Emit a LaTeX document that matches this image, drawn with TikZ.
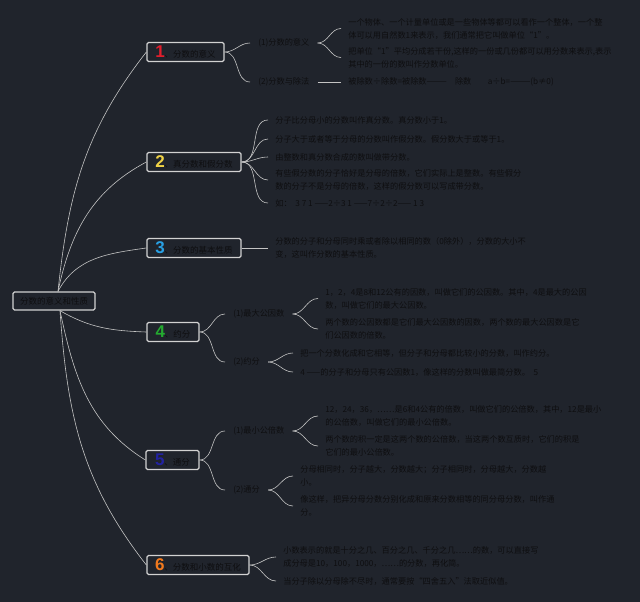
\documentclass[tikz,border=0pt]{standalone}
\usepackage{fontspec}
\setmainfont{Noto Sans CJK SC}
\newfontfamily\numfont{Liberation Sans}

\definecolor{bgcol}{RGB}{32,36,44}
\definecolor{linecol}{RGB}{196,196,196}
\definecolor{boxcol}{RGB}{210,210,210}
\definecolor{txtcol}{RGB}{14,14,16}
\definecolor{numred}{RGB}{226,30,44}
\definecolor{numyellow}{RGB}{240,210,70}
\definecolor{numblue}{RGB}{40,160,228}
\definecolor{numgreen}{RGB}{36,170,48}
\definecolor{numnavy}{RGB}{34,34,160}
\definecolor{numorange}{RGB}{242,122,30}

\newcommand\topicnum[2]{{\numfont\bfseries\fontsize{17}{17}\selectfont\color{#1}#2}}

\begin{document}
\begin{tikzpicture}[x=1pt,y=-1pt,color=linecol,line width=.6pt,
  topic/.style={draw=boxcol,line width=1.3pt,fill=bgcol,rounded corners=1.5pt,
    inner sep=0pt,minimum height=19pt,text=txtcol,font=\fontsize{8.5}{10}\selectfont},
  sub/.style={anchor=west,inner xsep=8pt,inner ysep=0pt,text=txtcol,
    font=\fontsize{8.2}{13}\selectfont},
  leaf/.style={anchor=west,align=left,inner xsep=7pt,inner ysep=0pt,text=txtcol,
    font=\fontsize{8.2}{13}\selectfont},
  link/.style={out=0,in=180}]
  \fill[bgcol] (0,0) rectangle (640,602);
  \useasboundingbox (0,0) rectangle (640,602);

  % root and topics
  \node[topic,minimum width=82pt,minimum height=18pt] (root) at (54,301) {分数的意义和性质};
  \node[topic,minimum width=77pt]  (n1) at (185.5,52) {\topicnum{numred}{1}、分数的意义};
  \node[topic,minimum width=94pt]  (n2) at (194,162)  {\topicnum{numyellow}{2}、真分数和假分数};
  \node[topic,minimum width=94pt]  (n3) at (194,248)  {\topicnum{numblue}{3}、分数的基本性质};
  \node[topic,minimum width=52pt]  (n4) at (173,332)  {\topicnum{numgreen}{4}、约分};
  \node[topic,minimum width=53pt]  (n5) at (172.5,460) {\topicnum{numnavy}{5}、通分};
  \node[topic,minimum width=102pt] (n6) at (198,565)  {\topicnum{numorange}{6}、分数和小数的互化};

  \path ([xshift=4pt]root.north) edge[out=84,in=232] (n1.west)
                                 edge[out=78,in=208] (n2.west)
                                 edge[out=62,in=188] (n3.west)
        ([xshift=6pt]root.south) edge[out=-30,in=178] (n4.west)
                                 edge[out=-78,in=148] (n5.west)
                                 edge[out=-86,in=128] (n6.west);

  % 1
  \node[sub] (s11) at (250,43) {(1)分数的意义};
  \node[sub] (s12) at (250,82) {(2)分数与除法};
  \node[leaf] (l111) at (341,28.5) {一个物体、一个计量单位或是一些物体等都可以看作一个整体，一个整\\体可以用自然数1来表示，我们通常把它叫做单位“1”。};
  \node[leaf] (l112) at (341,57.5) {把单位“1”平均分成若干份,这样的一份或几份都可以用分数来表示,表示\\其中的一份的数叫作分数单位。};
  \node[leaf] (l121) at (341,82) {被除数÷除数=被除数———\quad 除数\qquad a÷b=———(b≠0)};
  \path (n1.east) edge[link] (s11.west) edge[link] (s12.west)
        (s11.east) edge[link] (l111.west) edge[link] (l112.west)
        (s12.east) edge (l121.west);

  % 2
  \node[leaf] (l21) at (268,120) {分子比分母小的分数叫作真分数。真分数小于1。};
  \node[leaf] (l22) at (268,139) {分子大于或者等于分母的分数叫作假分数。假分数大于或等于1。};
  \node[leaf] (l23) at (268,157) {由整数和真分数合成的数叫做带分数。};
  \node[leaf] (l24) at (268,180) {有些假分数的分子恰好是分母的倍数，它们实际上是整数。有些假分\\数的分子不是分母的倍数，这样的假分数可以写成带分数。};
  \node[leaf] (l25) at (268,203) {如：\ \ 3\ 7\ 1\ ——2÷3\ 1\ ——7÷2÷2——\ 1\ 3};
  \path (n2.east) edge[link] (l21.west) edge[link] (l22.west) edge[link] (l23.west)
                  edge[link] (l24.west) edge[link] (l25.west);

  % 3
  \node[leaf] (l31) at (268,248) {分数的分子和分母同时乘或者除以相同的数（0除外），分数的大小不\\变，这叫作分数的基本性质。};
  \path (n3.east) edge (l31.west);

  % 4
  \node[sub] (s41) at (225,314) {(1)最大公因数};
  \node[sub] (s42) at (225,362) {(2)约分};
  \node[leaf] (l411) at (318,298.5) {1，2，4是8和12公有的因数，叫做它们的公因数。其中，4是最大的公因\\数，叫做它们的最大公因数。};
  \node[leaf] (l412) at (318,329) {两个数的公因数都是它们最大公因数的因数，两个数的最大公因数是它\\们公因数的倍数。};
  \node[leaf] (l421) at (293,353) {把一个分数化成和它相等，但分子和分母都比较小的分数，叫作约分。};
  \node[leaf] (l422) at (293,372) {4\ ——的分子和分母只有公因数1，像这样的分数叫做最简分数。\ \ 5};
  \path (n4.east) edge[link] (s41.west) edge[link] (s42.west)
        (s41.east) edge[link] (l411.west) edge[link] (l412.west)
        (s42.east) edge[link] (l421.west) edge[link] (l422.west);

  % 5
  \node[sub] (s51) at (225,431) {(1)最小公倍数};
  \node[sub] (s52) at (225,490) {(2)通分};
  \node[leaf] (l511) at (318,416) {12，24，36，……是6和4公有的倍数，叫做它们的公倍数，其中，12是最小\\的公倍数，叫做它们的最小公倍数。};
  \node[leaf] (l512) at (318,446) {两个数的积一定是这两个数的公倍数，当这两个数互质时，它们的积是\\它们的最小公倍数。};
  \node[leaf] (l521) at (293,476) {分母相同时，分子越大，分数越大；分子相同时，分母越大，分数越\\小。};
  \node[leaf] (l522) at (293,506) {像这样，把异分母分数分别化成和原来分数相等的同分母分数，叫作通\\分。};
  \path (n5.east) edge[link] (s51.west) edge[link] (s52.west)
        (s51.east) edge[link] (l511.west) edge[link] (l512.west)
        (s52.east) edge[link] (l521.west) edge[link] (l522.west);

  % 6
  \node[leaf] (l61) at (276,557) {小数表示的就是十分之几、百分之几、千分之几……的数，可以直接写\\成分母是10，100，1000，……的分数，再化简。};
  \node[leaf] (l62) at (276,581) {当分子除以分母除不尽时，通常要按“四舍五入”法取近似值。};
  \path (n6.east) edge[link] (l61.west) edge[link] (l62.west);
\end{tikzpicture}
\end{document}
